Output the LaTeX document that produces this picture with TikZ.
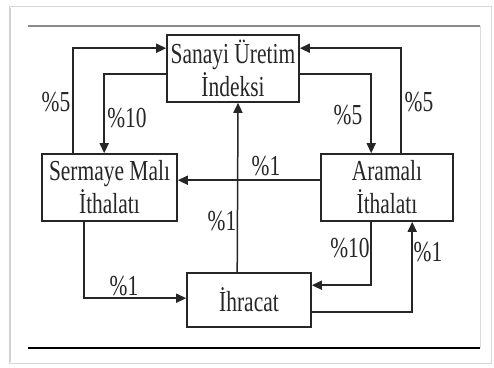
\documentclass[tikz,border=0pt]{standalone}
\usepackage{fontspec}
\setmainfont{Liberation Serif}[FakeStretch=0.74]
\usepackage{xcolor}
\usepackage{tikz}
\usetikzlibrary{arrows.meta,positioning}
\definecolor{linec}{HTML}{262626}
\definecolor{rulegrey}{HTML}{8A8A8A}
\definecolor{cardedge}{HTML}{D6D6D6}

\begin{document}
\begin{tikzpicture}[x=1pt,y=-1pt,
  box/.style={draw=linec,line width=1.6pt,fill=white,inner sep=0pt,align=center,
              font=\fontsize{29}{33}\selectfont,text=linec},
  pct/.style={inner sep=0pt,font=\fontsize{29}{33}\selectfont,text=linec},
  arr/.style={draw=linec,line width=1.5pt,-{Triangle[length=10pt,width=9pt]}},
]
\useasboundingbox (0,0) rectangle (494,367);
% card and rules
\fill[white] (0,0) rectangle (494,367);
\draw[cardedge,line width=1pt] (9,6) rectangle (491,363);
\draw[black!18,line width=2.5pt] (10,8) -- (10,362);
\draw[rulegrey,line width=1.5pt] (28,26) -- (480,26);
\draw[black!15,line width=1pt] (480,26) -- (480,348);
\draw[black,line width=2.2pt] (28,348) -- (480,348);

\node[box,minimum width=132pt,minimum height=67pt] (sanayi)  at (233,68.5) {Sanayi Üretim\\İndeksi};
\node[box,minimum width=135pt,minimum height=67pt] (sermaye) at (109.5,187.5) {Sermaye Malı\\İthalatı};
\node[box,minimum width=132pt,minimum height=67pt] (aramali) at (387,187.5) {Aramalı\\İthalatı};
\node[box,minimum width=124pt,minimum height=54pt] (ihracat) at (249,300) {İhracat};

\draw[arr] ([xshift=32pt]sermaye.north west) |- ([yshift=-14pt]sanayi.north west);
\draw[arr] ([yshift=-40pt]sanayi.north west) -| ([xshift=63pt]sermaye.north west);
\draw[arr] ([yshift=-40pt]sanayi.north east) -| ([xshift=51pt]aramali.north west);
\draw[arr] ([xshift=81pt]aramali.north west) |- ([yshift=-14pt]sanayi.north east);
\draw[arr] ([yshift=-27pt]aramali.north west) -- ([yshift=-27pt]sermaye.north east);
\draw[arr] ([xshift=51pt]ihracat.north west) -- ([xshift=5pt]sanayi.south);
\draw[arr] ([xshift=43pt]sermaye.south west) |- ([yshift=-26pt]ihracat.north west);
\draw[arr] ([xshift=51pt]aramali.south west) |- ([yshift=-13pt]ihracat.north east);
\draw[arr] ([yshift=-40pt]ihracat.north east) -| ([xshift=92pt]aramali.south west);

\node[pct] (p1) at (56,102)  {\%5};
\node[pct] (p2) at (127,118) {\%10};
\node[pct] (p3) at (348,115) {\%5};
\node[pct] (p4) at (419,102) {\%5};
\node[pct] (p5) at (266,166) {\%1};
\node[pct] (p6) at (222,221) {\%1};
\node[pct] (p7) at (124,286) {\%1};
\node[pct] (p8) at (350,248) {\%10};
\node[pct] (p9) at (428,252) {\%1};
\end{tikzpicture}
\end{document}
